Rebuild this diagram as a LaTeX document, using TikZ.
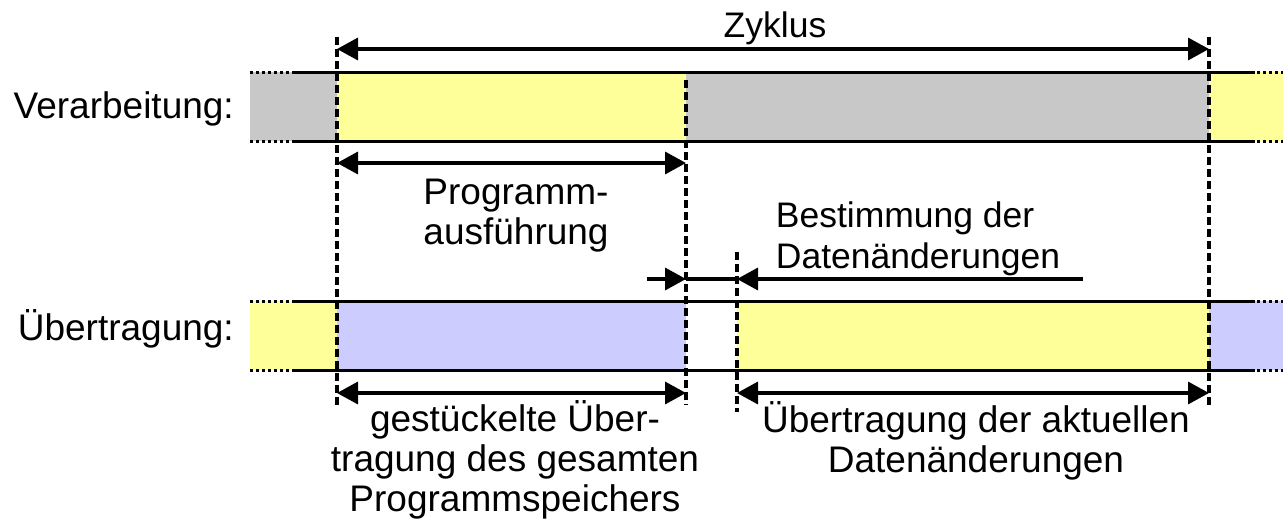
\documentclass[tikz,border=0pt]{standalone}
\usepackage{fontspec}
\setmainfont{Liberation Sans}
\usetikzlibrary{arrows.meta}
\definecolor{procgray}{HTML}{C8C8C8}
\definecolor{lightyellow}{HTML}{FFFF99}
\definecolor{lightblue}{HTML}{CCCCFF}
\tikzset{
 barline/.style={line width=3pt},
 dotend/.style={line width=3pt, dash pattern=on 3pt off 3pt},
 marker/.style={line width=3.8pt, dash pattern=on 8pt off 4pt},
 dimone/.style={line width=3.5pt, -{Triangle[length=21pt,width=22pt]}},
 dimboth/.style={line width=3.5pt, {Triangle[length=21pt,width=22pt]}-{Triangle[length=21pt,width=22pt]}},
 lbl/.style={font=\fontsize{35.5}{41}\selectfont, inner sep=0pt, align=center},
 lblbig/.style={font=\fontsize{37}{40}\selectfont, inner sep=0pt, align=center},
}
\begin{document}
\begin{tikzpicture}[x=1pt,y=-1pt]
\useasboundingbox (0,0) rectangle (1283,522);
% markers (x positions)
\coordinate (aT) at (337,37);   \coordinate (aB) at (337,407);
\coordinate (bT) at (686,80);   \coordinate (bB) at (686,405);
\coordinate (cT) at (737,252);  \coordinate (cB) at (737,412);
\coordinate (dT) at (1209,37);  \coordinate (dB) at (1209,405);
% fills: Verarbeitung
\fill[procgray] (250,72) rectangle (337,141);
\fill[lightyellow] (337,72) rectangle (686,141);
\fill[procgray] (686,72) rectangle (1209,141);
\fill[lightyellow] (1209,72) rectangle (1283,141);
% fills: Uebertragung
\fill[lightyellow] (250,301) rectangle (337,370);
\fill[lightblue] (337,301) rectangle (686,370);
\fill[lightyellow] (737,301) rectangle (1209,370);
\fill[lightblue] (1209,301) rectangle (1283,370);
% bar borders
\foreach \y in {72,141,301,370}{
  \draw[barline] (292,\y) -- (1255,\y);
  \draw[dotend] (250,\y) -- (292,\y);
  \draw[dotend] (1257,\y) -- (1283,\y);
}
% dashed markers
\draw[marker] (aT) -- (aB);
\draw[marker] (bT) -- (bB);
\draw[marker] (cT) -- (cB);
\draw[marker] (dT) -- (dB);
% dimension arrows
\draw[dimboth] (aT |- 0,49) -- (dT |- 0,49);
\draw[dimboth] (aT |- 0,163) -- (bT |- 0,163);
\coordinate (mL) at (647,279);
\coordinate (mR) at (1083,279);
\draw[line width=3.5pt] (bT |- mL) -- (cT |- mL);
\draw[dimone] (mL) -- (bT |- mL);
\draw[dimone] (mR) -- (cT |- mR);
\draw[dimboth] (aT |- 0,393) -- (bT |- 0,393);
\draw[dimboth] (cT |- 0,393) -- (dT |- 0,393);
% labels
\node[lbl, anchor=base] (zyk) at (775,37) {Zyklus};
\node[lblbig, anchor=base east] (verl) at (234,118) {Verarbeitung:};
\node[lblbig, anchor=base east] (uebl) at (234,340) {Übertragung:};
\node[lblbig, anchor=base] (prog) at (516,244) {Programm-\\ausführung};
\node[lbl, anchor=base, align=left] (best) at (918,268) {Bestimmung der\\Datenänderungen};
\node[lblbig, anchor=base] (gest) at (515,511) {gestückelte Über-\\tragung des gesamten\\Programmspeichers};
\node[lblbig, anchor=base] (aktu) at (976,472) {Übertragung der aktuellen\\Datenänderungen};
\end{tikzpicture}
\end{document}
